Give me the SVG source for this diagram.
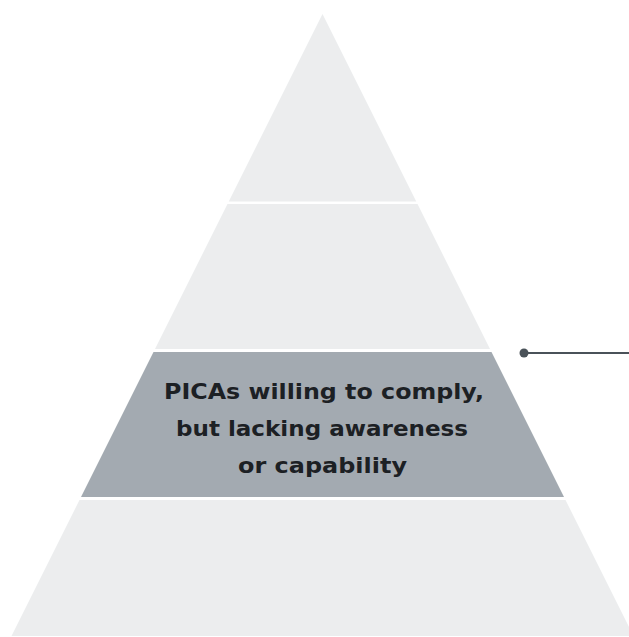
<svg xmlns="http://www.w3.org/2000/svg" width="629" height="637" viewBox="0 0 629 637">
<style>
.light{fill:#ecedee}
.dark{fill:#a3aab1}
.lbl{font-family:"DejaVu Sans","Liberation Sans",sans-serif;font-weight:bold;font-size:21.5px;fill:#1c2024;text-anchor:middle}
</style>
<rect width="629" height="637" fill="#ffffff"/>
<g id="tier1"><polygon class="light" points="322.5,14 416.25,201.5 228.75,201.5"/></g>
<g id="tier2"><polygon class="light" points="227.5,204 417.5,204 490,349 155,349"/></g>
<g id="tier3"><polygon class="dark" points="153.5,352 491.5,352 564,497 81,497"/>
<text class="lbl" x="324" y="399" textLength="320" lengthAdjust="spacingAndGlyphs">PICAs willing to comply,</text>
<text class="lbl" x="322" y="436" textLength="292" lengthAdjust="spacingAndGlyphs">but lacking awareness</text>
<text class="lbl" x="322.5" y="473" textLength="169" lengthAdjust="spacingAndGlyphs">or capability</text>
</g>
<g id="tier4"><polygon class="light" points="79.5,500 565.5,500 633.5,636 11.5,636"/></g>
<g id="connectors">
<line x1="524" y1="353" x2="629" y2="353" stroke="#4a5259" stroke-width="2"/>
<circle cx="524" cy="353" r="4.5" fill="#4a5259"/>
</g>
</svg>
